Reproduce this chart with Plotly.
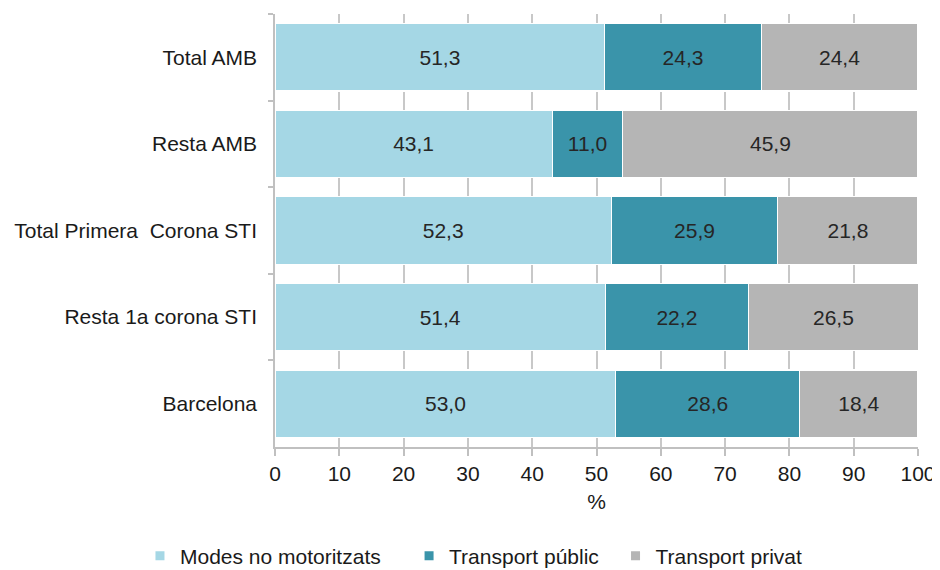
import plotly.graph_objects as go

categories = ["Total AMB", "Resta AMB", "Total Primera\u00a0 Corona STI", "Resta 1a corona STI", "Barcelona"]
modes_no_motoritzats = [51.3, 43.1, 52.3, 51.4, 53.0]
transport_public = [24.3, 11.0, 25.9, 22.2, 28.6]
transport_privat = [24.4, 45.9, 21.8, 26.5, 18.4]
series_names = ["Modes no motoritzats", "Transport públic", "Transport privat"]
legend_pad = ["\u00a0\u00a0\u00a0\u00a0", "\u00a0\u00a0", ""]
colors = ["#A5D7E5", "#3A94AA", "#B5B5B5"]
x_ticks = [0, 10, 20, 30, 40, 50, 60, 70, 80, 90, 100]

FONT = "Liberation Sans, Arial, sans-serif"
FS = 21

def fmt(v):
    return f"{v:.1f}".replace(".", ",")

fig = go.Figure()
for name, pad, vals, col in zip(series_names, legend_pad,
                                [modes_no_motoritzats, transport_public, transport_privat], colors):
    fig.add_trace(go.Bar(
        y=categories, x=vals, name=name, orientation="h",
        marker=dict(color=col, line=dict(color="white", width=1.2)),
        text=[fmt(v) for v in vals], textposition="inside", insidetextanchor="middle",
        textfont=dict(family=FONT, size=FS, color="#262626"),
        hoverinfo="skip", showlegend=False,
    ))
    # legend-only entry with small square marker
    fig.add_trace(go.Scatter(
        x=[None], y=[None], mode="markers", name=name + pad,
        marker=dict(symbol="square", size=9, color=col),
        showlegend=True, hoverinfo="skip",
    ))

# the page body adds an 8px margin; the figure is offset accordingly
fig.update_layout(
    barmode="stack", bargap=0.22,
    width=940, height=590,
    margin=dict(l=267, r=30, t=6, b=151),
    plot_bgcolor="white", paper_bgcolor="white",
    font=dict(family=FONT, size=FS, color="#1a1a1a"),
    separators=",.",
    legend=dict(orientation="h", xref="paper", yref="paper", x=-0.21, y=-0.252,
                xanchor="left", yanchor="middle", font=dict(size=FS, color="#1a1a1a"),
                traceorder="normal", itemwidth=30, tracegroupgap=0),
    xaxis=dict(range=[0, 100], tickvals=x_ticks, showgrid=True, gridcolor="#C8C8C8", gridwidth=1.5,
               showline=True, linecolor="#C0C0C0", linewidth=1.5, ticks="outside", ticklen=7,
               tickcolor="#C0C0C0", tickwidth=1.5, zeroline=False, automargin=False,
               title=dict(text="%", font=dict(size=FS), standoff=10), tickfont=dict(size=FS)),
    yaxis=dict(autorange="reversed", showline=True, linecolor="#C0C0C0", linewidth=1.5,
               ticks="outside", tickson="boundaries", ticklen=5, tickcolor="#C0C0C0", tickwidth=1.5,
               showgrid=False, tickfont=dict(size=FS), ticklabelstandoff=12, automargin=False),
)
fig.write_html("out.html")
